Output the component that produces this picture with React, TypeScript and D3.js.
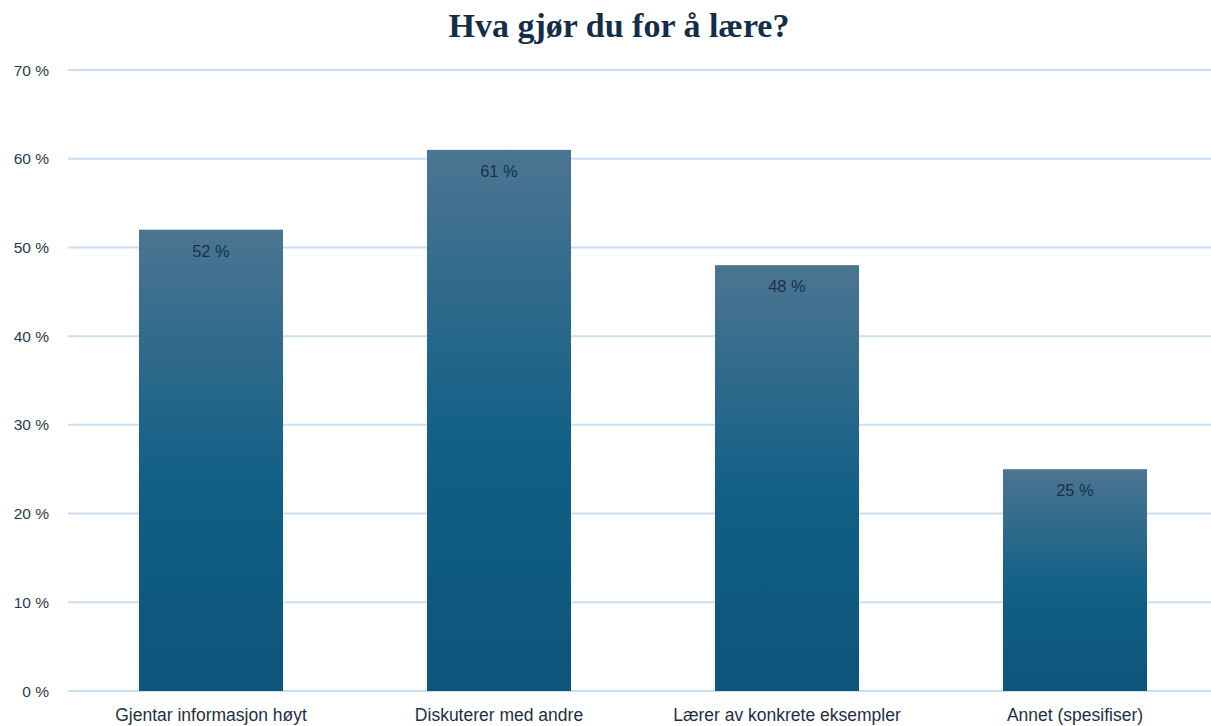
import React from "react";
import * as d3 from "d3";

const categories = [
  "Gjentar informasjon høyt",
  "Diskuterer med andre",
  "Lærer av konkrete eksempler",
  "Annet (spesifiser)",
];
const values = [52, 61, 48, 25];
const yTicks = [0, 10, 20, 30, 40, 50, 60, 70];
const title = "Hva gjør du for å lære?";

const W = 1211;
const H = 726;

export default function App() {
  const x = d3.scaleBand<string>().domain(categories).range([67, 1219]).paddingInner(0.5).paddingOuter(0.25);
  const y = d3.scaleLinear().domain([0, 70]).range([691, 70]);
  const font = "'Liberation Sans', Arial, sans-serif";
  return (
    <svg width={W} height={H} style={{ position: "absolute", left: 0, top: 0, background: "#fff" }}>
      <defs>
        <linearGradient id="barGrad" x1="0" y1="0" x2="0" y2="1">
          <stop offset="0" stopColor="#4b7591" />
          <stop offset="0.55" stopColor="#115f86" />
          <stop offset="1" stopColor="#0d5579" />
        </linearGradient>
      </defs>
      <text
        x={619}
        y={37}
        textAnchor="middle"
        fontFamily="'Liberation Serif', 'Times New Roman', serif"
        fontWeight="bold"
        fontSize={34}
        fill="#142e4a"
      >
        {title}
      </text>
      {yTicks.map((t) => (
        <g key={t}>
          <line x1={68} x2={W} y1={y(t)} y2={y(t)} stroke="#cbddf1" strokeWidth={2} />
          <text x={49} y={y(t) + 5.5} textAnchor="end" fontFamily={font} fontSize={15.5} fill="#2b3a4f">
            {`${t} %`}
          </text>
        </g>
      ))}
      {categories.map((c, i) => (
        <g key={c}>
          <rect
            x={x(c)}
            y={y(values[i])}
            width={x.bandwidth()}
            height={y(0) - y(values[i])}
            fill="url(#barGrad)"
          />
          <text
            x={(x(c) as number) + x.bandwidth() / 2}
            y={y(values[i]) + 27}
            textAnchor="middle"
            fontFamily={font}
            fontSize={16.5}
            fill="#1c304a"
          >
            {`${values[i]} %`}
          </text>
          <text
            x={(x(c) as number) + x.bandwidth() / 2}
            y={721}
            textAnchor="middle"
            fontFamily={font}
            fontSize={17.5}
            fill="#1f2f44"
          >
            {c}
          </text>
        </g>
      ))}
    </svg>
  );
}
